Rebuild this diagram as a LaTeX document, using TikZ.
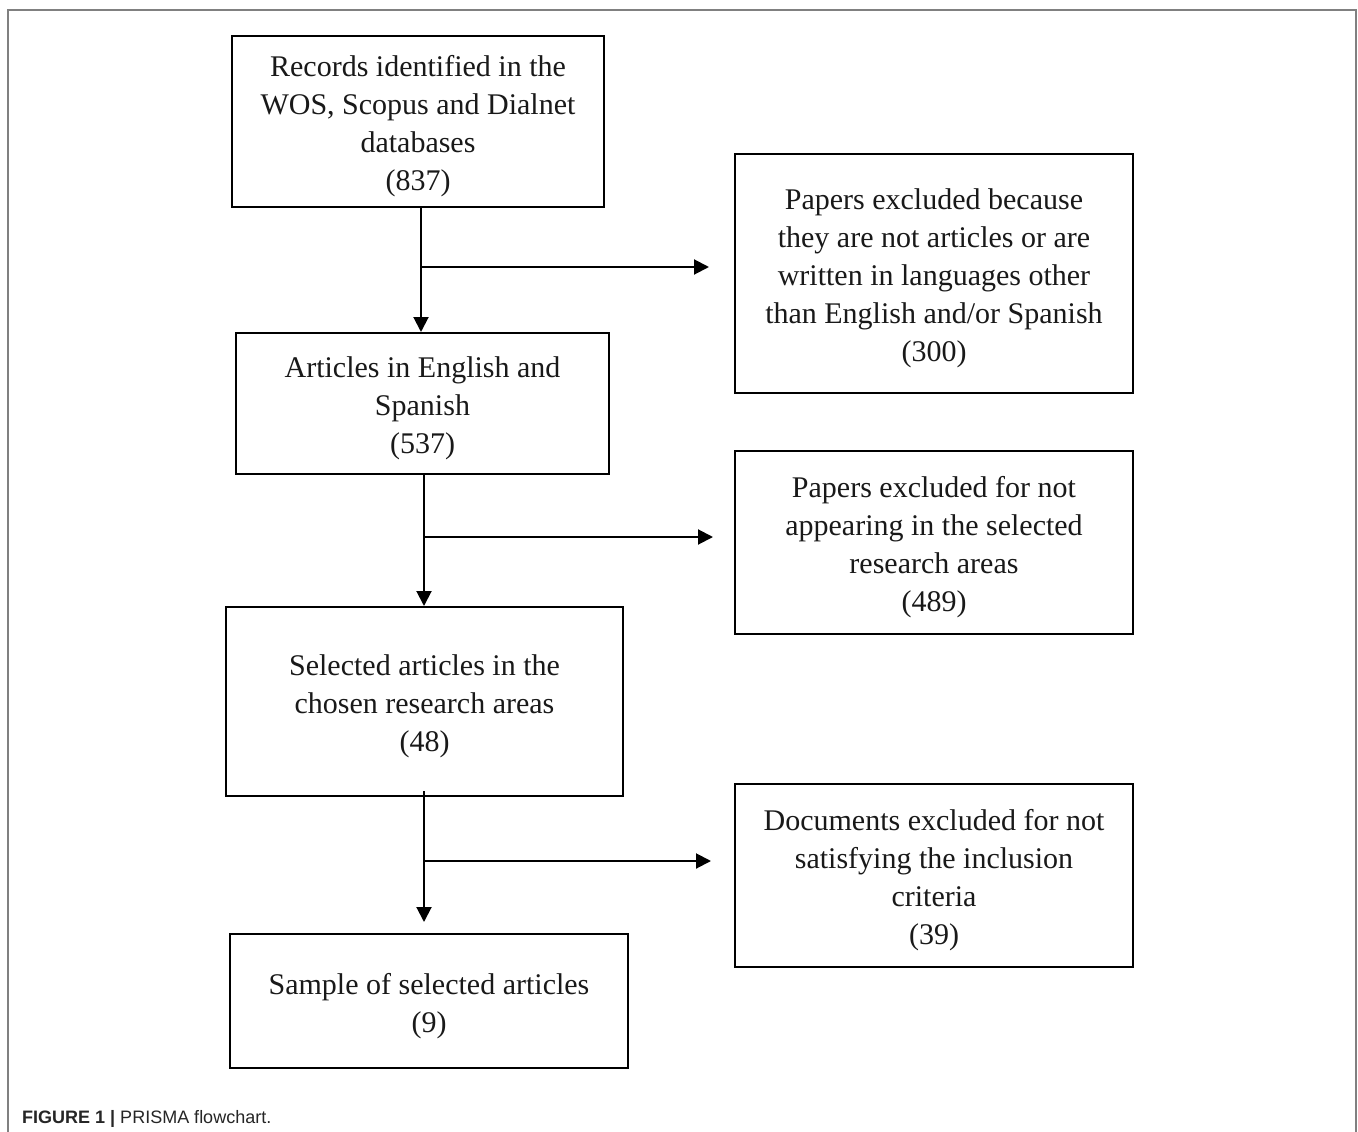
\documentclass[tikz,border=0pt]{standalone}
\usepackage{fontspec}
\setmainfont{Liberation Serif}
\newfontfamily\capfont{Liberation Sans}
\usetikzlibrary{arrows.meta}
\newcommand\topgap{\rule{0pt}{30.5pt}}
\begin{document}
\begin{tikzpicture}[x=1pt,y=1pt,
  box/.style={draw=black, line width=2pt, align=center, inner sep=0pt,
    font=\fontsize{30}{38}\selectfont, text=black!90},
  arr/.style={line width=2pt, -{Triangle[length=15pt,width=15pt]}}]
\useasboundingbox (0,0) rectangle (1358,-1132);
\fill[white] (0,0) rectangle (1358,-1132);
\draw[black!50, line width=2pt] (8,-1132) -- (8,-10) -- (1356,-10) -- (1356,-1132);

\node[box, minimum width=372pt, minimum height=171pt] (b1) at (418,-121.5)
  {\topgap Records identified in the\\WOS, Scopus and Dialnet\\databases\\(837)};
\node[box, minimum width=398pt, minimum height=239pt] (b2) at (934,-273.5)
  {\topgap Papers excluded because\\they are not articles or are\\written in languages other\\than English and/or Spanish\\(300)};
\node[box, minimum width=373pt, minimum height=141pt] (b3) at (422.5,-403.5)
  {\topgap Articles in English and\\Spanish\\(537)};
\node[box, minimum width=398pt, minimum height=183pt] (b4) at (934,-542.5)
  {\topgap Papers excluded for not\\appearing in the selected\\research areas\\(489)};
\node[box, minimum width=397pt, minimum height=189pt] (b5) at (424.5,-701.5)
  {\topgap Selected articles in the\\chosen research areas\\(48)};
\node[box, minimum width=398pt, minimum height=183pt] (b6) at (934,-875.5)
  {\topgap Documents excluded for not\\satisfying the inclusion\\criteria\\(39)};
\node[box, minimum width=398pt, minimum height=134pt] (b7) at (429,-1001)
  {\topgap Sample of selected articles\\(9)};

\coordinate (j1) at (421,-267);
\coordinate (j2) at (424,-537);
\coordinate (j3) at (424,-861);
\draw[arr] (b1.south -| j1) -- (b3.north -| j1);
\draw[arr] (j1) -- ([xshift=-25pt]b2.west |- j1);
\draw[arr] (b3.south -| j2) -- (b5.north -| j2);
\draw[arr] (j2) -- ([xshift=-21pt]b4.west |- j2);
\draw[arr] ([yshift=6pt]b5.south -| j3) -- ([yshift=11pt]b7.north -| j3);
\draw[arr] (j3) -- ([xshift=-23pt]b6.west |- j3);

\node[anchor=base west, inner sep=0pt, font=\capfont\fontsize{18}{20}\selectfont, text=black!85] (cap) at (22,-1123)
  {\textbf{FIGURE 1 |} PRISMA flowchart.};
\end{tikzpicture}
\end{document}
